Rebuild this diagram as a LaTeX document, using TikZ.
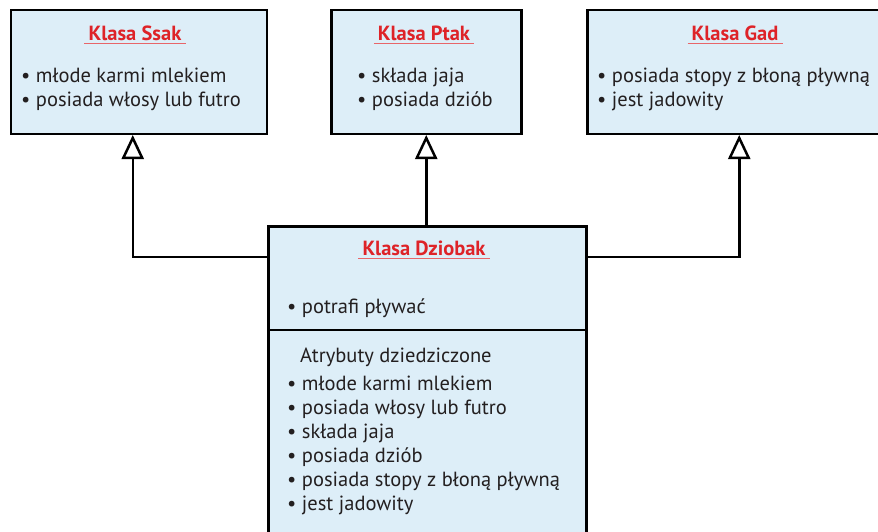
\documentclass[tikz,border=0pt]{standalone}
\usepackage{fontspec}
\setmainfont{PT Sans}
\usepackage{tikz}
\usetikzlibrary{arrows.meta, positioning, calc}
\definecolor{KlasaFill}{RGB}{221,238,248}
\definecolor{KlasaRed} {RGB}{222, 35, 40}
\definecolor{KlasaText}{RGB}{ 35, 31, 32}

\begin{document}
\begin{tikzpicture}[x=1pt, y=-1pt,
    klasa/.style={draw=black, line width=2.5pt, fill=KlasaFill,
                  anchor=north west, inner sep=0pt},
    tytul/.style={text=KlasaRed, font=\fontsize{20.5}{22}\selectfont\bfseries,
                  anchor=base, inner xsep=4pt, inner ysep=3pt},
    cecha/.style={text=KlasaText, font=\fontsize{20.5}{24}\selectfont,
                  anchor=base west, inner sep=0pt},
    dziedzic/.style={draw=black, line width=2.5pt,
                     -{Triangle[open, length=24pt, width=22pt]}}]
  \useasboundingbox (0,0) rectangle (878,531);
  \clip (0,0) rectangle (878,531);

  % klasy bazowe
  \node[klasa, minimum width=256pt, minimum height=124pt] (ssak) at (9.5,8.5) {};
  \node[klasa, minimum width=190pt, minimum height=124pt] (ptak) at (330,8.5) {};
  \node[klasa, minimum width=304pt, minimum height=124pt] (gad)  at (586,8.5) {};
  % klasa pochodna
  \node[klasa, minimum width=318pt, minimum height=320pt] (dziobak) at (267,225) {};
  \draw[line width=2.5pt] ([yshift=-105pt]dziobak.north west)
      -- ([yshift=-105pt]dziobak.north east);

  % tytuly
  \node[tytul] (t-ssak)    at (135,40)  {Klasa Ssak};
  \node[tytul] (t-ptak)    at (424,40)  {Klasa Ptak};
  \node[tytul] (t-gad)     at (735,40)  {Klasa Gad};
  \node[tytul] (t-dziobak) at (424,255) {Klasa Dziobak};
  \foreach \n in {ssak, ptak, gad, dziobak}
    \draw[KlasaRed!70, line width=1.6pt] (t-\n.south west) -- (t-\n.south east);

  % cechy
  \foreach \t [count=\i] in {młode karmi mlekiem, posiada włosy lub futro}
    \node[cecha] (ssak-\i) at (21,{82+24*(\i-1)}) {\textbullet{} \t};
  \foreach \t [count=\i] in {składa jaja, posiada dziób}
    \node[cecha] (ptak-\i) at (357,{82+24*(\i-1)}) {\textbullet{} \t};
  \foreach \t [count=\i] in {posiada stopy z błoną pływną, jest jadowity}
    \node[cecha] (gad-\i) at (597,{82+24*(\i-1)}) {\textbullet{} \t};
  \node[cecha] (wlasna) at (287,313) {\textbullet{} potrafi pływać};
  \node[cecha] (odziedz) at (300,362) {Atrybuty dziedziczone};
  \foreach \t [count=\i] in {młode karmi mlekiem, posiada włosy lub futro,
      składa jaja, posiada dziób, posiada stopy z błoną pływną, jest jadowity}
    \node[cecha] (dz-\i) at (287,{390+24*(\i-1)}) {\textbullet{} \t};

  % dziedziczenie
  \draw[dziedzic] ([yshift=-32pt]dziobak.north west) -| ([xshift=-6pt]ssak.south);
  \draw[dziedzic] (ptak.south |- dziobak.north) -- (ptak.south);
  \draw[dziedzic] ([yshift=-32pt]dziobak.north east) -| (gad.south);
\end{tikzpicture}
\end{document}
